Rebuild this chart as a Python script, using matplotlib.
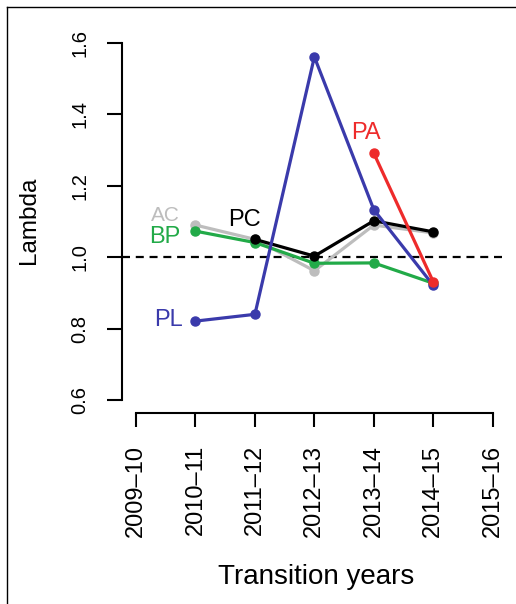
#!/usr/bin/env python3

"""Lambda per transition year for five populations."""

import matplotlib
matplotlib.use("Agg")
import matplotlib.pyplot as plt
from matplotlib.lines import Line2D

plt.rcParams['font.family'] = ['Liberation Sans', 'DejaVu Sans']

years = ["2009\u201310", "2010\u201311", "2011\u201312", "2012\u201313",
         "2013\u201314", "2014\u201315", "2015\u201316"]
yticks = [0.6, 0.8, 1.0, 1.2, 1.4, 1.6]

# year index -> lambda
ac_x = [1, 2, 3, 4, 5]
ac_y = [1.09, 1.05, 0.962, 1.09, 1.068]
bp_x = [1, 2, 3, 4, 5]
bp_y = [1.073, 1.041, 0.983, 0.984, 0.927]
pc_x = [2, 3, 4, 5]
pc_y = [1.050, 1.003, 1.102, 1.071]
pl_x = [1, 2, 3, 4, 5]
pl_y = [0.821, 0.840, 1.561, 1.133, 0.921]
pa_x = [4, 5]
pa_y = [1.291, 0.931]

series = [
    ("AC", ac_x, ac_y, "#bdbdbd", (0.49, 1.118)),
    ("BP", bp_x, bp_y, "#22aa48", (0.49, 1.057)),
    ("PC", pc_x, pc_y, "black", (1.83, 1.104)),
    ("PL", pl_x, pl_y, "#3a3aab", (0.54, 0.824)),
    ("PA", pa_x, pa_y, "#ee2b2b", (3.87, 1.348)),
]

fig = plt.figure(figsize=(5.16, 6.04), dpi=100)
ax = fig.add_axes([0.2359, 0.3162, 0.7467, 0.6363])

ax.axhline(1.0, color="black", lw=1.6, dashes=(3.6, 2.6), zorder=1)

for i, (name, xs, ys, col, lpos) in enumerate(series):
    ax.plot(xs, ys, color=col, lw=2.3, marker="o", markersize=6.5,
            zorder=2 + i)
    size = 15 if name == "AC" else 17
    ax.text(lpos[0], lpos[1], name, color=col, fontsize=size,
            ha="center", va="center", zorder=10)

ax.set_xlim(-0.24, 6.24)
ax.set_ylim(0.5636, 1.64)

for side in ["top", "right"]:
    ax.spines[side].set_visible(False)
ax.spines["left"].set_bounds(0.6, 1.6)
ax.spines["bottom"].set_bounds(0, 6)
for side in ["left", "bottom"]:
    ax.spines[side].set_linewidth(1.5)

ax.set_xticks(range(len(years)))
ax.set_xticklabels(years, rotation=90, fontsize=17)
ax.set_yticks(yticks)
ax.set_yticklabels([f"{v:.1f}" for v in yticks], rotation=90, va="center",
                   fontsize=14.5)
ax.tick_params(axis="x", length=10, width=1.5, pad=13)
ax.tick_params(axis="y", length=10.5, width=1.5, pad=13)
ax.patch.set_visible(False)

fig.text(316 / 516, 1 - 577 / 604, "Transition years", fontsize=20,
         ha="center", va="center")
fig.text(29 / 516, 1 - 220 / 604, "Lambda", fontsize=17.5, rotation=90,
         ha="center", va="center")

# thin frame around the panel (left and top edges)
fig.add_artist(Line2D([6.5 / 516, 6.5 / 516], [0, 1 - 7 / 604],
                      transform=fig.transFigure, color="black", lw=1))
fig.add_artist(Line2D([6.5 / 516, 1], [1 - 7 / 604, 1 - 7 / 604],
                      transform=fig.transFigure, color="black", lw=1))

fig.savefig("out.png", dpi=100)
